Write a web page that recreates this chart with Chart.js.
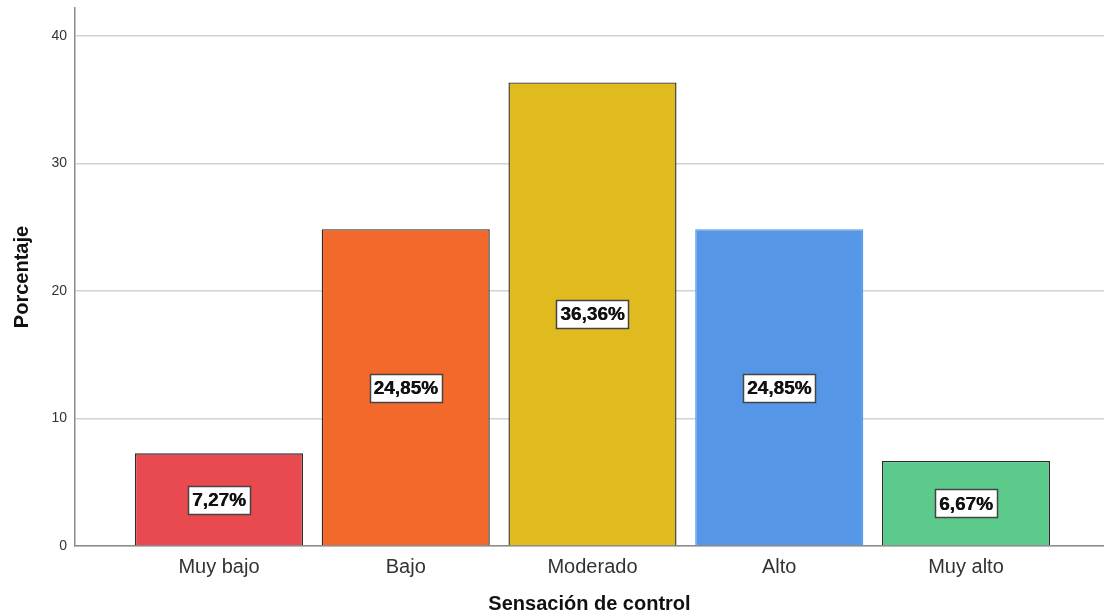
<!DOCTYPE html>
<html>
<head>
<meta charset="utf-8">
<script src="https://cdn.jsdelivr.net/npm/chart.js@4"></script>
<style>
  html, body { margin: 0; padding: 0; background: #fff; }
  #wrap { width: 1104px; height: 616px; }
</style>
</head>
<body>
<div id="wrap"><canvas id="chart" width="1104" height="616"></canvas></div>
<script>
// Datos del gráfico
const categorias = ['Muy bajo', 'Bajo', 'Moderado', 'Alto', 'Muy alto'];
const porcentajes = [7.27, 24.85, 36.36, 24.85, 6.67];
const colores = ['#e94a4f', '#f2692b', '#dfbb1f', '#5596e6', '#5bca8a'];
const bordes = ['#2b2b2b', '#2b2b2b', '#2b2b2b', '#5596e6', '#2b2b2b'];
const ticksY = [0, 10, 20, 30, 40];

const fuente = 'Arial, "Liberation Sans", sans-serif';

// Etiquetas con recuadro blanco en el centro de cada barra
const etiquetas = {
    id: 'etiquetas',
    afterDatasetsDraw(chart) {
        const ctx = chart.ctx;
        const yScale = chart.scales.y;
        const meta = chart.getDatasetMeta(0);
        ctx.save();
        ctx.font = 'bold 19px ' + fuente;
        ctx.textAlign = 'center';
        ctx.textBaseline = 'middle';
        meta.data.forEach((bar, i) => {
            const v = porcentajes[i];
            const txt = v.toFixed(2).replace('.', ',') + '%';
            const x = bar.x;
            const y = yScale.getPixelForValue(v / 2);
            const w = Math.round(ctx.measureText(txt).width + 8);
            const h = 28;
            const bx = Math.round(x - w / 2) + 0.5;
            const by = Math.round(y - h / 2) + 0.5;
            ctx.fillStyle = '#ffffff';
            ctx.fillRect(bx, by, w, h);
            ctx.strokeStyle = '#444444';
            ctx.lineWidth = 1.5;
            ctx.strokeRect(bx, by, w, h);
            ctx.fillStyle = '#111111';
            ctx.fillText(txt, x, y + 1);
            ctx.fillText(txt, x + 0.4, y + 1);
        });
        ctx.restore();
    }
};

new Chart(document.getElementById('chart'), {
    type: 'bar',
    data: {
        datasets: [{
            data: porcentajes.map((v, i) => ({ x: i + 1, y: v })),
            backgroundColor: colores,
            borderColor: bordes,
            borderWidth: 1.4,
            categoryPercentage: 1,
            barPercentage: 0.9
        }]
    },
    options: {
        responsive: false,
        animation: false,
        layout: { padding: { top: 0, right: 0, bottom: 0, left: 0 } },
        plugins: {
            legend: { display: false },
            tooltip: { enabled: false }
        },
        scales: {
            x: {
                type: 'linear',
                offset: false,
                min: 0.229,
                max: 5.739,
                afterBuildTicks: s => { s.ticks = categorias.map((c, i) => ({ value: i + 1 })); },
                afterFit: s => { s.height = 70; },
                grid: { display: false, drawTicks: false },
                border: { color: '#8c8c8c', width: 1.5 },
                ticks: {
                    padding: 9,
                    autoSkip: false,
                    maxRotation: 0,
                    color: '#333333',
                    font: { family: fuente, size: 20 },
                    callback: v => categorias[v - 1]
                },
                title: {
                    display: true,
                    text: 'Sensación de control',
                    color: '#111111',
                    font: { family: fuente, size: 20, weight: 'bold' },
                    padding: { top: 0, bottom: 0 }
                }
            },
            y: {
                min: 0,
                max: 42.2,
                afterBuildTicks: s => { s.ticks = ticksY.map(v => ({ value: v })); },
                afterFit: s => { s.width = 75; s.paddingTop = 8; s.paddingBottom = 0; },
                grid: { color: '#d2d2d2', lineWidth: 1.5, drawTicks: false },
                border: { color: '#8c8c8c', width: 1.5 },
                ticks: {
                    padding: 8,
                    color: '#333333',
                    font: { family: fuente, size: 14 }
                },
                title: {
                    display: true,
                    text: 'Porcentaje',
                    color: '#111111',
                    font: { family: fuente, size: 20, weight: 'bold' },
                    padding: { top: 10, bottom: 0 }
                }
            }
        }
    },
    plugins: [etiquetas]
});
</script>
</body>
</html>
